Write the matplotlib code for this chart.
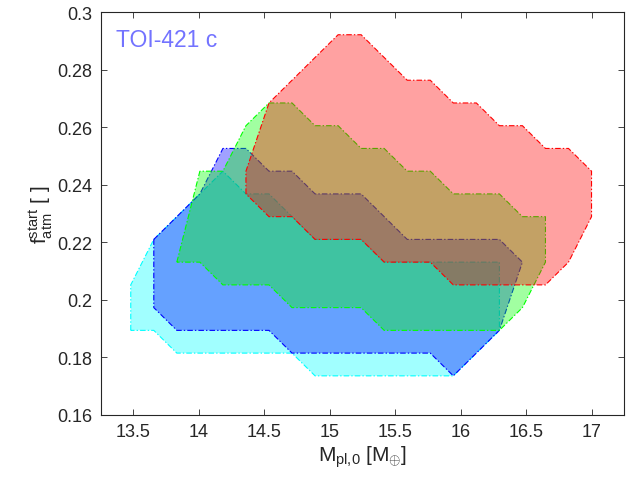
import matplotlib
matplotlib.use("Agg")
import matplotlib.pyplot as plt
from matplotlib.patches import Polygon

plt.rcParams['font.family'] = ['Liberation Sans', 'DejaVu Sans']
plt.rcParams['mathtext.fontset'] = 'custom'
plt.rcParams['mathtext.rm'] = 'Liberation Sans'
plt.rcParams['mathtext.it'] = 'Liberation Sans'
plt.rcParams['lines.scale_dashes'] = False

# ---- data (M_pl,0 [M_earth], f_atm^start) ----
cyan_x = [13.48, 13.48, 13.656, 13.832, 14.008, 14.184, 14.36, 14.536, 14.712, 14.888,
          15.24, 15.416, 16.296, 16.296, 15.944, 14.888, 14.712, 13.832, 13.656]
cyan_y = [0.1894, 0.2052, 0.2210, 0.2289, 0.2368, 0.2447, 0.2368, 0.2368, 0.2289, 0.2210,
          0.2210, 0.2131, 0.2131, 0.1894, 0.1736, 0.1736, 0.1815, 0.1815, 0.1894]

blue_x = [13.656, 14.008, 14.184, 14.36, 14.536, 14.712, 14.888, 15.24, 15.592, 16.296,
          16.472, 16.296, 15.944, 15.768, 14.712, 14.536, 13.832, 13.656]
blue_y = [0.2210, 0.2368, 0.2526, 0.2526, 0.2447, 0.2447, 0.2368, 0.2368, 0.2210, 0.2210,
          0.2131, 0.1894, 0.1736, 0.1815, 0.1815, 0.1894, 0.1894, 0.1973]

green_x = [13.832, 14.008, 14.184, 14.36, 14.536, 14.712, 14.888, 15.064, 15.24, 15.416,
           15.592, 15.768, 15.944, 16.296, 16.472, 16.648, 16.648, 16.472, 16.296, 15.416,
           15.24, 14.712, 14.536, 14.184, 14.008]
green_y = [0.2131, 0.2447, 0.2447, 0.2605, 0.2684, 0.2684, 0.2605, 0.2605, 0.2526, 0.2526,
           0.2447, 0.2447, 0.2368, 0.2368, 0.2289, 0.2289, 0.2131, 0.1973, 0.1894, 0.1894,
           0.1973, 0.1973, 0.2052, 0.2052, 0.2131]

red_x = [14.36, 14.36, 14.536, 15.064, 15.24, 15.592, 15.768, 15.944, 16.12, 16.296,
         16.472, 16.648, 16.824, 17.0, 17.0, 16.824, 16.648, 15.944, 15.768, 15.416,
         15.24, 14.888, 14.712, 14.536]
red_y = [0.2368, 0.2447, 0.2684, 0.2921, 0.2921, 0.2763, 0.2763, 0.2684, 0.2684, 0.2605,
         0.2605, 0.2526, 0.2526, 0.2447, 0.2289, 0.2131, 0.2052, 0.2052, 0.2131, 0.2131,
         0.2210, 0.2210, 0.2289, 0.2289]

x_ticks = [13.5, 14, 14.5, 15, 15.5, 16, 16.5, 17]
x_ticklabels = ['13.5', '14', '14.5', '15', '15.5', '16', '16.5', '17']
y_ticks = [0.16, 0.18, 0.2, 0.22, 0.24, 0.26, 0.28, 0.3]
y_ticklabels = ['0.16', '0.18', '0.2', '0.22', '0.24', '0.26', '0.28', '0.3']

regions = [
    (cyan_x, cyan_y, (0, 1, 1)),
    (blue_x, blue_y, (0, 0, 1)),
    (green_x, green_y, (0, 1, 0)),
    (red_x, red_y, (1, 0, 0)),
]

fig = plt.figure(figsize=(6.37, 4.89), dpi=100)
ax = fig.add_axes([0.158, 0.1493, 0.822, 0.8241])

for xs, ys, col in regions:
    poly = Polygon(list(zip(xs, ys)), closed=True,
                   facecolor=(col[0], col[1], col[2], 0.37),
                   edgecolor=col, linewidth=0.8,
                   linestyle=(0, (4.0, 1.5, 1.0, 1.5)))
    ax.add_patch(poly)

ax.set_xlim(13.25, 17.25)
ax.set_ylim(0.16, 0.3)
ax.set_xticks(x_ticks)
ax.set_xticklabels(x_ticklabels)
ax.set_yticks(y_ticks)
ax.set_yticklabels(y_ticklabels)

axcol = (0.15, 0.15, 0.15)
for s in ax.spines.values():
    s.set_color(axcol)
    s.set_linewidth(0.8)
ax.tick_params(direction='in', length=4, width=0.6, colors=axcol,
               labelsize=13, top=True, right=True, pad=6)

ax.set_xlabel(r'M$_{\mathrm{pl{,}0}}$ [M$_{\oplus}$]', fontsize=15, color=axcol, labelpad=2)
ax.set_ylabel(r'f$_{\mathrm{atm}}^{\mathrm{start}}$ [ ]', fontsize=15, color=axcol, labelpad=2)

ax.text(13.365, 0.2882, 'TOI-421 c', fontsize=16.5, color=(0.45, 0.45, 1.0),
        ha='left', va='baseline')

fig.savefig('out.png', dpi=100)
